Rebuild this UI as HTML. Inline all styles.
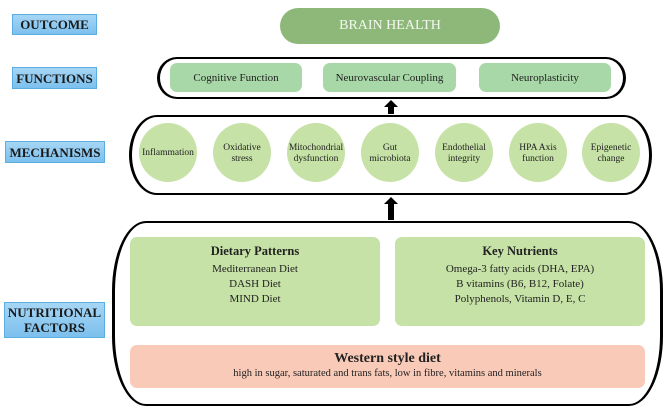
<!DOCTYPE html>
<html><head><meta charset="utf-8"><style>
body{margin:0;width:669px;height:411px;background:#fff;position:relative;overflow:hidden;font-family:"Liberation Serif",serif;color:#222}
div{position:absolute;box-sizing:border-box}
.lab{background:linear-gradient(#a6d6f5,#7cc0ee);border:1px solid #5aaee0;font-weight:bold;font-size:13px;text-align:center;display:flex;align-items:center;justify-content:center;line-height:15px;color:#1a1a1a}
.outer{border:2.5px solid #000;border-left-width:3.5px;border-right-width:3.5px}
.fb{background:#a8d8a8;border-radius:7px;font-size:11px;display:flex;align-items:center;justify-content:center}
.c{width:58px;height:59px;top:123px;border-radius:50%;background:#c6e2a6;font-size:9.5px;display:flex;align-items:center;justify-content:center;text-align:center;line-height:11px;padding-top:2px}
.g{background:#c6e2a6;border-radius:7px;text-align:center;font-size:11px;line-height:15px}
.g b{font-size:12.5px;display:block;margin:7px 0 3px}
.ar{width:0;height:0;border-left:7px solid transparent;border-right:7px solid transparent;border-bottom:7px solid #000}
.st{width:6px;background:#000}
</style></head><body>
<div class="lab" style="left:12px;top:14px;width:85px;height:21px">OUTCOME</div>
<div class="lab" style="left:12px;top:67px;width:85px;height:22px">FUNCTIONS</div>
<div class="lab" style="left:5px;top:141px;width:100px;height:22px">MECHANISMS</div>
<div class="lab" style="left:4px;top:302px;width:101px;height:36px">NUTRITIONAL<br>FACTORS</div>

<div style="left:280px;top:8px;width:220px;height:36px;border-radius:18px;background:#8db87a;color:#f4f8f0;font-size:14px;display:flex;align-items:center;justify-content:center">BRAIN HEALTH</div>

<div class="outer" style="left:157px;top:57px;width:469px;height:42px;border-radius:20px/21px"></div>
<div class="fb" style="left:170px;top:63px;width:132px;height:29px">Cognitive Function</div>
<div class="fb" style="left:323px;top:63px;width:133px;height:29px">Neurovascular Coupling</div>
<div class="fb" style="left:479px;top:63px;width:132px;height:29px">Neuroplasticity</div>

<div class="ar" style="left:384px;top:100px"></div><div class="st" style="left:388px;top:106px;height:8px"></div>

<div class="outer" style="left:129px;top:115px;width:523px;height:80px;border-radius:28px/40px"></div>
<div class="c" style="left:139px">Inflammation</div>
<div class="c" style="left:213px">Oxidative<br>stress</div>
<div class="c" style="left:287px">Mitochondrial<br>dysfunction</div>
<div class="c" style="left:361px">Gut<br>microbiota</div>
<div class="c" style="left:435px">Endothelial<br>integrity</div>
<div class="c" style="left:509px">HPA Axis<br>function</div>
<div class="c" style="left:582px">Epigenetic<br>change</div>

<div class="ar" style="left:384px;top:197px"></div><div class="st" style="left:388px;top:203px;height:17px"></div>

<div class="outer" style="left:112px;top:221px;width:551px;height:185px;border-radius:34px/70px"></div>
<div class="g" style="left:130px;top:237px;width:250px;height:89px"><b>Dietary Patterns</b>Mediterranean Diet<br>DASH Diet<br>MIND Diet</div>
<div class="g" style="left:395px;top:237px;width:250px;height:89px"><b>Key Nutrients</b>Omega-3 fatty acids (DHA, EPA)<br>B vitamins (B6, B12, Folate)<br>Polyphenols, Vitamin D, E, C</div>
<div style="left:130px;top:345px;width:515px;height:43px;background:#f9cab8;border-radius:7px;text-align:center;font-size:10.5px;line-height:13px"><b style="display:block;font-size:14px;margin-top:6px;line-height:16px">Western style diet</b>high in sugar, saturated and trans fats, low in fibre, vitamins and minerals</div>
</body></html>
